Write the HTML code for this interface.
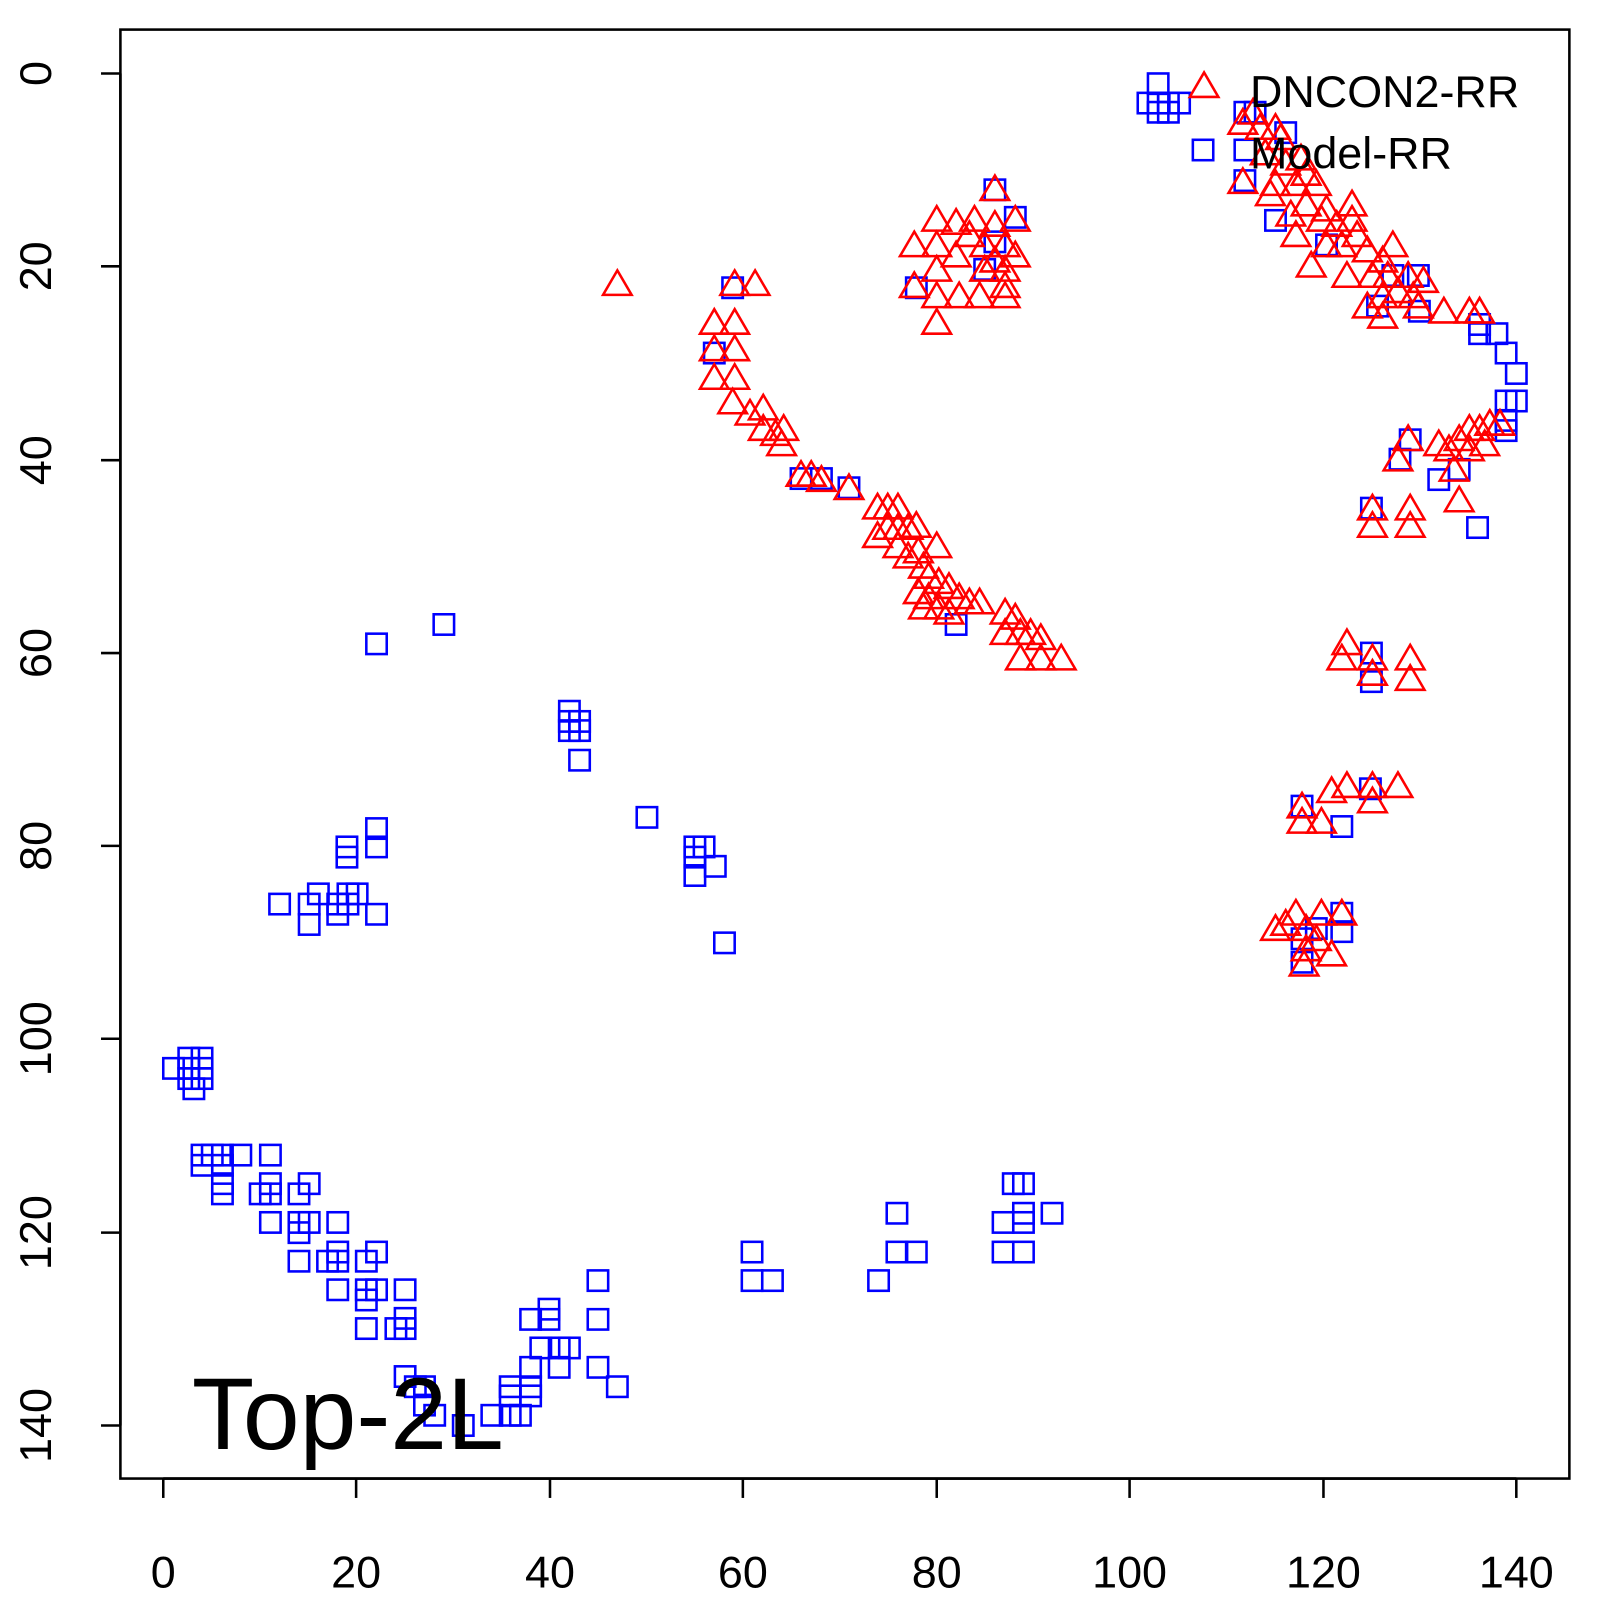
<!DOCTYPE html>
<html><head><meta charset="utf-8"><style>body{margin:0;background:#fff}svg{display:block}</style></head>
<body>
<svg width="1600" height="1600" xmlns="http://www.w3.org/2000/svg" font-family="Liberation Sans, sans-serif">
<rect width="1600" height="1600" fill="#fff"/>
<g transform="scale(1.0204)">
<rect x="118" y="29" width="1420" height="1420" fill="none" stroke="#000" stroke-width="2.5"/>
<g stroke="#000" stroke-width="2.5">
<line x1="160" y1="1449" x2="1486" y2="1449"/>
<line x1="160" y1="1449" x2="160" y2="1468"/><line x1="349" y1="1449" x2="349" y2="1468"/><line x1="539" y1="1449" x2="539" y2="1468"/><line x1="728" y1="1449" x2="728" y2="1468"/><line x1="918" y1="1449" x2="918" y2="1468"/><line x1="1107" y1="1449" x2="1107" y2="1468"/><line x1="1297" y1="1449" x2="1297" y2="1468"/><line x1="1486" y1="1449" x2="1486" y2="1468"/>
<line x1="118" y1="72" x2="118" y2="1397"/>
<line x1="118" y1="72" x2="99" y2="72"/><line x1="118" y1="261" x2="99" y2="261"/><line x1="118" y1="451" x2="99" y2="451"/><line x1="118" y1="640" x2="99" y2="640"/><line x1="118" y1="829" x2="99" y2="829"/><line x1="118" y1="1018" x2="99" y2="1018"/><line x1="118" y1="1208" x2="99" y2="1208"/><line x1="118" y1="1397" x2="99" y2="1397"/>
</g>
<g font-size="44" text-anchor="middle" fill="#000">
<text x="160" y="1556">0</text><text x="349" y="1556">20</text><text x="539" y="1556">40</text><text x="728" y="1556">60</text><text x="918" y="1556">80</text><text x="1107" y="1556">100</text><text x="1297" y="1556">120</text><text x="1486" y="1556">140</text>
<text transform="translate(50,72) rotate(-90)">0</text><text transform="translate(50,261) rotate(-90)">20</text><text transform="translate(50,451) rotate(-90)">40</text><text transform="translate(50,640) rotate(-90)">60</text><text transform="translate(50,829) rotate(-90)">80</text><text transform="translate(50,1018) rotate(-90)">100</text><text transform="translate(50,1208) rotate(-90)">120</text><text transform="translate(50,1397) rotate(-90)">140</text>
</g>
<g id="pts" fill="none" stroke-width="2.5"></g>
<text x="1225" y="105" font-size="44">DNCON2-RR</text>
<text x="1225" y="165" font-size="44">Model-RR</text>
<text x="188" y="1420" font-size="100">Top-2L</text>
</g>
</svg>
<script>
var sq=[[170,1047],[185,1037],[185,1047],[185,1057],[190,1067],[198,1037],[198,1047],[198,1057],[198,1132],[198,1142],[208,1132],[218,1132],[218,1142],[218,1160],[218,1170],[236,1132],[255,1170],[265,1132],[265,1160],[265,1170],[265,1198],[293,1170],[293,1198],[293,1208],[293,1236],[303,1160],[303,1198],[321,1236],[331,1198],[331,1227],[331,1236],[331,1264],[359,1236],[359,1264],[359,1274],[359,1302],[369,1227],[369,1264],[388,1302],[397,1264],[397,1292],[397,1302],[397,1349],[407,1359],[416,1359],[416,1377],[426,1387],[454,1397],[482,1387],[500,1359],[500,1368],[500,1387],[510,1387],[520,1359],[520,1340],[520,1368],[520,1293],[538,1283],[538,1293],[530,1321],[548,1321],[548,1340],[558,1321],[586,1255],[586,1293],[586,1340],[605,1359],[737,1227],[737,1255],[757,1255],[861,1255],[879,1189],[879,1227],[898,1227],[983,1198],[983,1227],[993,1160],[1003,1160],[1003,1189],[1003,1198],[1003,1227],[1031,1189],[274,886],[303,886],[303,906],[312,876],[331,886],[331,896],[341,876],[341,886],[350,876],[340,830],[340,840],[369,812],[369,830],[369,896],[369,631],[435,612],[558,697],[558,707],[558,716],[568,707],[568,716],[568,745],[634,801],[681,830],[690,830],[681,840],[681,858],[701,849],[710,924],[1135,82],[1125,101],[1135,101],[1145,101],[1156,101],[1135,110],[1145,110],[1179,147],[1220,110],[1220,147],[1230,110],[1260,130],[1450,318],[1450,327],[1467,327],[1476,346],[1486,366],[1486,393],[1476,393],[1476,412],[1476,422],[1448,517],[1382,431],[1372,450],[1410,470],[1430,460],[1344,498],[1344,640],[1344,668],[1276,790],[1315,810],[1343,773],[1276,920],[1276,943],[1315,895],[1315,913],[718,282],[700,346],[785,469],[805,469],[832,478],[898,282],[975,186],[965,264],[937,612],[1290,910],[975,237],[995,213],[1220,177],[1250,216],[1300,240],[1350,300],[1365,270],[1390,270],[1391,305]];
var tr=[[605,278],[720,278],[740,278],[700,316],[720,316],[700,342],[720,342],[700,370],[720,370],[718,394],[735,405],[748,400],[748,420],[760,425],[768,420],[766,435],[785,465],[795,465],[805,470],[832,478],[860,497],[870,497],[880,497],[870,517],[880,517],[890,517],[898,515],[860,525],[880,535],[890,545],[900,540],[918,535],[905,555],[910,565],[920,570],[900,580],[910,585],[930,575],[940,585],[950,590],[960,590],[920,595],[985,600],[995,605],[985,620],[1000,620],[1010,620],[1020,625],[1000,645],[1020,645],[1040,645],[905,595],[930,600],[896,240],[918,215],[918,240],[918,264],[918,290],[918,316],[896,280],[937,218],[937,250],[950,230],[955,215],[965,240],[965,264],[975,185],[975,220],[975,255],[985,240],[985,264],[985,290],[995,215],[995,250],[960,290],[940,290],[985,280],[1218,120],[1228,110],[1218,178],[1240,150],[1250,125],[1250,180],[1255,135],[1260,160],[1270,180],[1280,170],[1280,200],[1290,180],[1295,215],[1300,240],[1300,205],[1310,220],[1315,240],[1325,200],[1325,215],[1330,230],[1340,245],[1345,270],[1355,255],[1355,290],[1365,240],[1360,270],[1370,285],[1380,270],[1385,290],[1395,275],[1390,300],[1285,260],[1320,270],[1340,300],[1355,310],[1275,155],[1265,210],[1235,125],[1245,190],[1270,230],[1410,435],[1420,440],[1430,430],[1440,420],[1450,420],[1460,415],[1470,415],[1440,440],[1455,435],[1425,460],[1415,305],[1440,305],[1450,305],[1430,490],[1380,430],[1370,450],[1345,498],[1345,515],[1382,498],[1382,515],[1320,630],[1315,645],[1345,645],[1345,660],[1382,645],[1382,665],[1305,775],[1320,770],[1345,770],[1345,785],[1370,770],[1276,790],[1276,805],[1295,805],[1250,910],[1270,895],[1280,910],[1280,930],[1295,895],[1290,920],[1305,935],[1315,895],[1260,905],[1278,945]];
var g=document.getElementById('pts'),h='';
sq.forEach(function(p){h+='<rect x="'+(p[0]-10)+'" y="'+(p[1]-10)+'" width="20" height="20" stroke="#00f"/>';});
tr.push([1180,84]);
tr.forEach(function(p){h+='<polygon points="'+(p[0]-14)+','+(p[1]+11)+' '+(p[0]+14)+','+(p[1]+11)+' '+p[0]+','+(p[1]-13)+'" stroke="#f00"/>';});
g.innerHTML=h;
</script>
</body></html>
